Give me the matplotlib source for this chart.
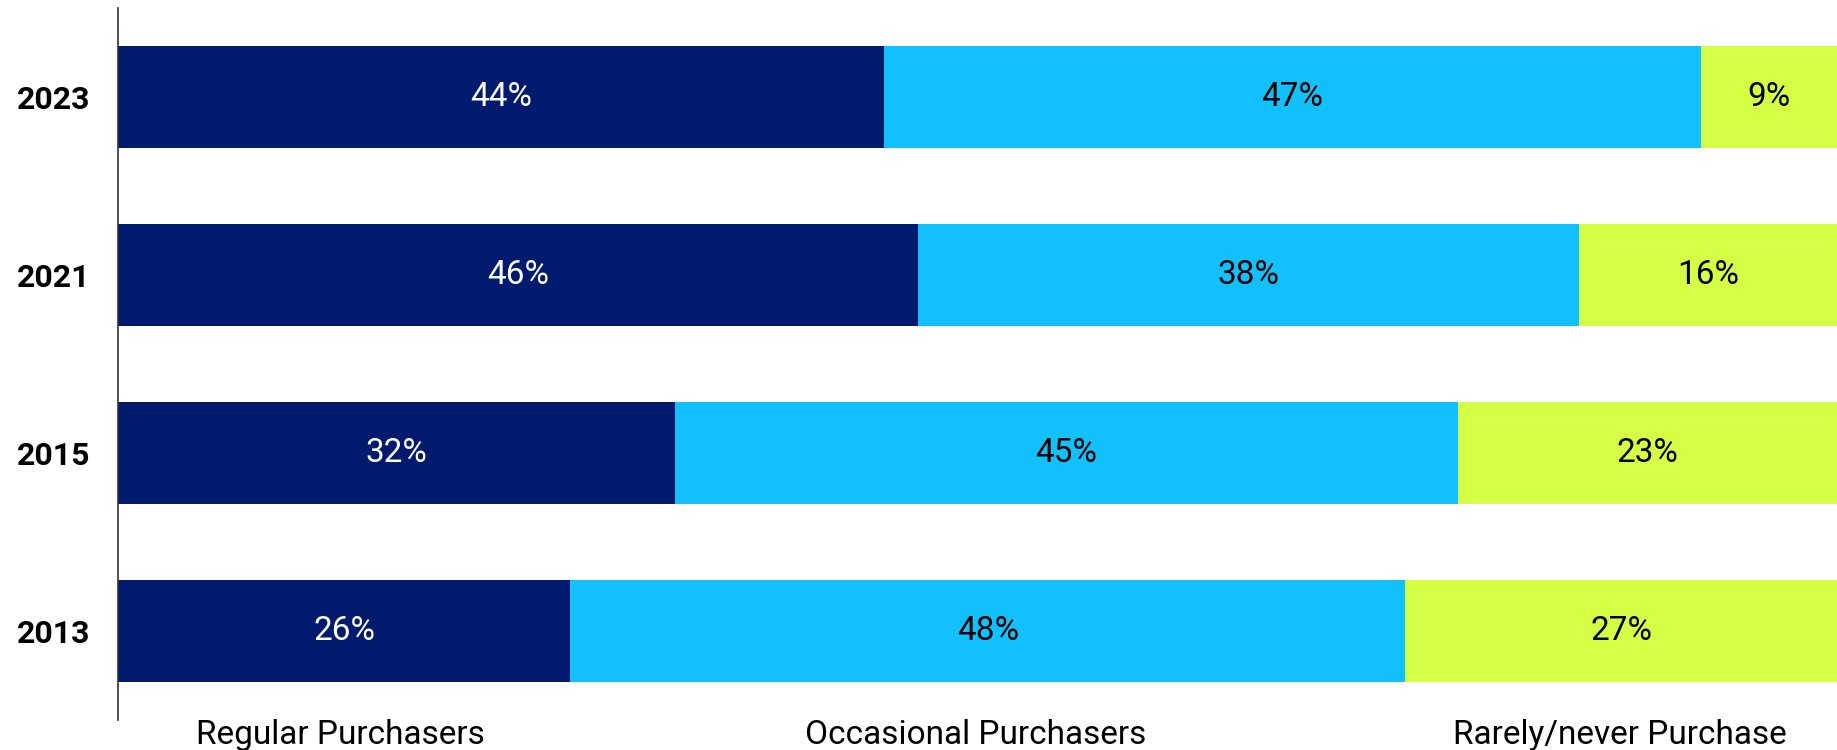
import numpy as np
import matplotlib.pyplot as plt

plt.rcParams['font.family'] = ['Roboto', 'DejaVu Sans']

# survey waves, top to bottom
years = ["2023", "2021", "2015", "2013"]
groups = ["Regular Purchasers", "Occasional Purchasers", "Rarely/never Purchase"]
regular = [44, 46, 32, 26]
occasional = [47, 38, 45, 48]
rarely = [9, 16, 23, 27]

colors = ["#001A6E", "#12C0FC", "#D4FF45"]
text_colors = ["white", "black", "black"]
XMAX = 98.8

fig = plt.figure(figsize=(18.37, 7.5), dpi=100)
ax = fig.add_axes([0.0642, 0.04, 0.9358, 0.9493])

ypos = np.arange(len(years))[::-1]
left = np.zeros(len(years))
for vals, c, tc in zip([regular, occasional, rarely], colors, text_colors):
    vals = np.array(vals, dtype=float)
    ax.barh(ypos, vals, left=left, height=0.57, color=c, linewidth=0)
    for y, l, v in zip(ypos, left, vals):
        # center label in the visible part of the segment
        xc = (l + min(l + v, XMAX)) / 2
        ax.text(xc, y, f"{int(v)}%", ha="center", va="center",
                fontsize=24, color=tc)
    left += vals

ax.set_xlim(0, XMAX)
ax.set_ylim(-0.5, 3.5)
ax.set_yticks(ypos)
ax.set_yticklabels(years, fontsize=23, fontweight="bold")
ax.tick_params(axis="y", length=0, pad=20)
ax.set_xticks([])
for s in ["top", "right", "bottom"]:
    ax.spines[s].set_visible(False)
ax.spines["left"].set_color("#333333")
ax.spines["left"].set_linewidth(1.2)

# category names under the bars
for g, gx in zip(groups, [12.8, 49.3, 86.3]):
    ax.text(gx, -0.585, g, ha="center", va="center", fontsize=24,
            clip_on=False)

fig.savefig("out.png", dpi=100)
